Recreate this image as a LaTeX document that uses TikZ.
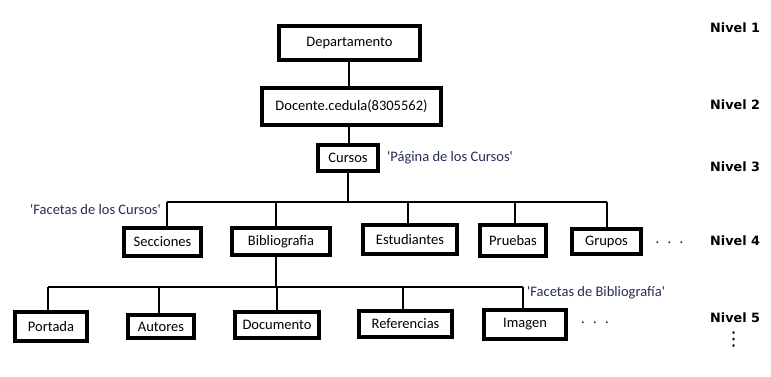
\documentclass[tikz,border=0pt]{standalone}
\usepackage{fontspec}
\setmainfont{Carlito}
\newfontfamily\nivfont{DejaVu Sans}
\definecolor{anncol}{RGB}{35,45,85}
\tikzset{
  box/.style={draw=black, line width=4pt, inner sep=0pt, fill=white,
    font=\fontsize{14.5}{17}\selectfont},
  conn/.style={draw=black, line width=1.4pt},
  ann/.style={inner sep=0pt, anchor=west, text=anncol,
    font=\fontsize{14.5}{17}\selectfont},
  nivel/.style={inner sep=0pt, anchor=west,
    font=\nivfont\bfseries\fontsize{12.8}{15}\selectfont},
  dots/.style={inner sep=0pt, font=\fontsize{14.5}{17}\selectfont}
}
\begin{document}
\begin{tikzpicture}[x=1pt,y=-1pt]
\useasboundingbox (0,0) rectangle (771,376);
% level 1-3
\node[box, minimum width=141, minimum height=34] (dep) at (349.5,43) {Departamento};
\node[box, minimum width=179, minimum height=37] (doc) at (351.5,106.5) {Docente.cedula(8305562)};
\node[box, minimum width=60, minimum height=26] (cur) at (348,158) {Cursos};
% level 4
\node[box, minimum width=77, minimum height=28] (sec) at (162.5,242) {Secciones};
\node[box, minimum width=98, minimum height=27] (bib) at (281,241.5) {Bibliografia};
\node[box, minimum width=94, minimum height=29] (est) at (410,239.5) {Estudiantes};
\node[box, minimum width=66, minimum height=31] (pru) at (513,240.5) {Pruebas};
\node[box, minimum width=69, minimum height=25] (gru) at (606.5,241.5) {Grupos};
% level 5
\node[box, minimum width=72, minimum height=29] (por) at (51,326.5) {Portada};
\node[box, minimum width=66, minimum height=23] (aut) at (161,326.5) {Autores};
\node[box, minimum width=84, minimum height=26] (docu) at (277,325) {Documento};
\node[box, minimum width=93, minimum height=26] (ref) at (405.5,324) {Referencias};
\node[box, minimum width=82, minimum height=29] (img) at (525,324.5) {Imagen};
% bus coordinates
\coordinate (b4) at (348,202);
\coordinate (b4a) at (167,202);
\coordinate (b4b) at (276,202);
\coordinate (b4c) at (408,202);
\coordinate (b4d) at (515,202);
\coordinate (b4e) at (607,202);
\coordinate (b5) at (276,287);
\coordinate (b5a) at (48,287);
\coordinate (b5b) at (159,287);
\coordinate (b5c) at (277,287);
\coordinate (b5d) at (403,287);
\coordinate (b5e) at (523,287);
% connectors
\draw[conn] (dep.south -| 349,0) -- (doc.north -| 349,0);
\draw[conn] (doc.south -| 349,0) -- (cur.north -| 349,0);
\draw[conn] (cur.south) -- (b4);
\draw[conn] (b4a) -- (b4e);
\draw[conn] (b4a) -- (b4a |- sec.north);
\draw[conn] (b4b) -- (b4b |- bib.north);
\draw[conn] (b4c) -- (b4c |- est.north);
\draw[conn] (b4d) -- (b4d |- pru.north);
\draw[conn] (b4e) -- (b4e |- gru.north);
\draw[conn] (bib.south -| b5) -- (b5);
\draw[conn] (b5a) -- (b5e);
\draw[conn] (b5a) -- (b5a |- por.north);
\draw[conn] (b5b) -- (b5b |- aut.north);
\draw[conn] (b5c) -- (b5c |- docu.north);
\draw[conn] (b5d) -- (b5d |- ref.north);
\draw[conn] (b5e) -- (b5e |- img.north);
% annotations
\node[ann] (a1) at (387,158) {\textquotesingle Página de los Cursos\textquotesingle};
\node[ann] (a2) at (30,210) {\textquotesingle Facetas de los Cursos\textquotesingle};
\node[ann] (a3) at (527,293) {\textquotesingle Facetas de Bibliografía\textquotesingle};
% dots
\node[dots] (d4) at (669.5,243) {.\hspace{8.3pt}.\hspace{8.3pt}.};
\node[dots] (d5) at (595,323) {.\hspace{8.3pt}.\hspace{8.3pt}.};
% levels
\node[nivel] (n1) at (710,28) {Nivel 1};
\node[nivel] (n2) at (710,105) {Nivel 2};
\node[nivel] (n3) at (710,167) {Nivel 3};
\node[nivel] (n4) at (710,241) {Nivel 4};
\node[nivel] (n5) at (710,318) {Nivel 5};
\node[inner sep=0pt, font=\nivfont\fontsize{19}{20}\selectfont] (vd) at (733.5,340) {⋮};
\end{tikzpicture}
\end{document}
